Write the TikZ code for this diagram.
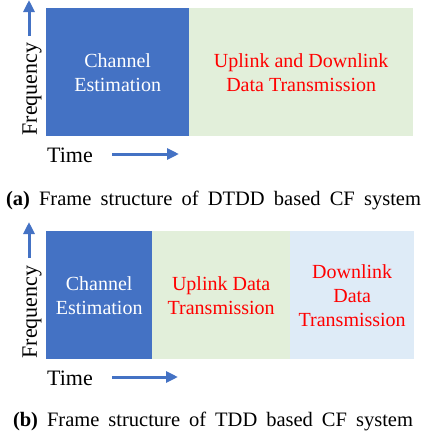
\documentclass[tikz,border=0pt]{standalone}
\usepackage{fontspec}
\setmainfont{Liberation Serif}
\usepackage{xcolor}
\usepackage{tikz}
\usetikzlibrary{arrows.meta}

\definecolor{ceblue}{HTML}{4472C4}
\definecolor{ulgreen}{HTML}{E2EFDA}
\definecolor{dlblue}{HTML}{DEEBF7}

\tikzset{
  block/.style={anchor=north west, inner sep=0pt, align=center, font=\fontsize{20}{24}\selectfont},
  axis/.style={color=ceblue, line width=3pt, -{Triangle[length=12pt, width=11pt]}},
  axislabel/.style={font=\fontsize{22}{26}\selectfont},
  caption/.style={anchor=base, inner sep=0pt, font=\fontsize{20.5}{24}\selectfont}
}

\begin{document}
\begin{tikzpicture}[x=1pt, y=-1pt]
                    \useasboundingbox (0,0) rectangle (421,439);
                    % (a) DTDD
                    \node[block, fill=ceblue, text=white, minimum width=143pt, minimum height=128pt] (cea) at (46,8) {Channel\\Estimation};
                    \node[block, fill=ulgreen, text=red, minimum width=224pt, minimum height=128pt] (udla) at (189,8) {Uplink and Downlink\\Data Transmission};
                    \node[axislabel, rotate=90] (freqa) at (32,89) {Frequency};
                    \node[axislabel] (timea) at (70,155) {Time};
                    \coordinate (fa0) at (29,36);
                    \coordinate (fa1) at (29,0);
                    \coordinate (ta0) at (112,154);
                    \coordinate (ta1) at (179,154);
                    \draw[axis] (fa0) -- (fa1);
                    \draw[axis] (ta0) -- (ta1);
                    \node[caption] (capa) at (213.5,205) {\makebox[415pt][s]{\textbf{(a)} Frame structure of DTDD based CF system}};

                    % (b) TDD
                    \node[block, fill=ceblue, text=white, minimum width=106pt, minimum height=128pt] (ceb) at (46,231) {Channel\\Estimation};
                    \node[block, fill=ulgreen, text=red, minimum width=138pt, minimum height=128pt] (ulb) at (152,231) {Uplink Data\\Transmission};
                    \node[block, fill=dlblue, text=red, minimum width=124pt, minimum height=128pt] (dlb) at (290,231) {Downlink\\Data\\Transmission};
                    \node[axislabel, rotate=90] (freqb) at (32,312) {Frequency};
                    \node[axislabel] (timeb) at (70,378) {Time};
                    \coordinate (fb0) at (29,258);
                    \coordinate (fb1) at (29,222);
                    \coordinate (tb0) at (112,377);
                    \coordinate (tb1) at (178,377);
                    \draw[axis] (fb0) -- (fb1);
                    \draw[axis] (tb0) -- (tb1);
                    \node[caption] (capb) at (213,426.5) {\makebox[400pt][s]{\textbf{(b)} Frame structure of TDD based CF system}};
\end{tikzpicture}
\end{document}
